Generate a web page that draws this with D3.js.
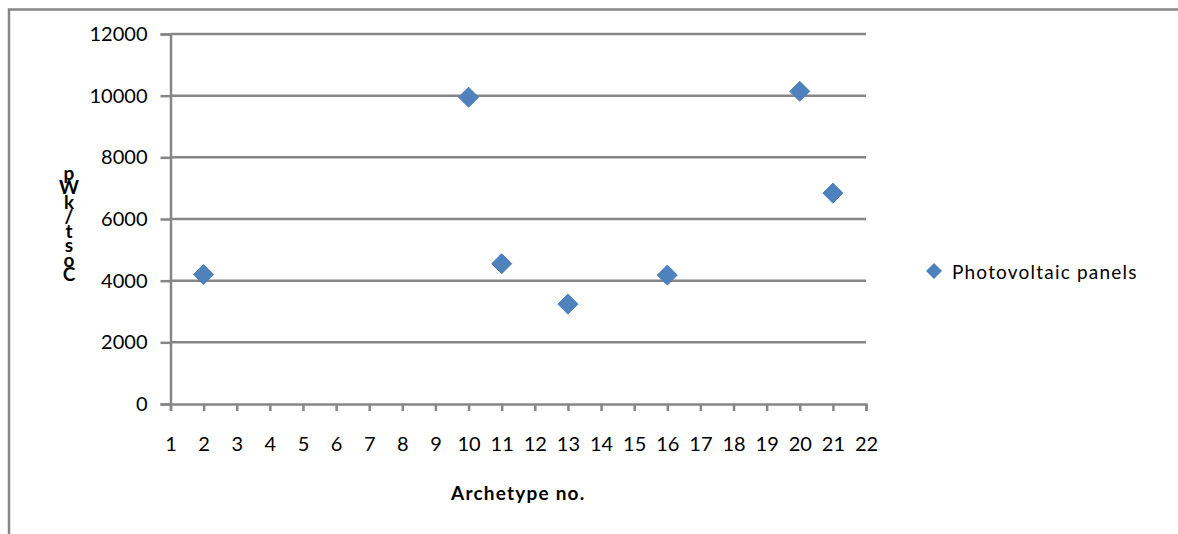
<!DOCTYPE html>
<html><head><meta charset="utf-8">
<script src="https://cdn.jsdelivr.net/npm/d3@7"></script>
<style>body{margin:0;background:#fff}svg{display:block}</style>
</head><body>
<svg id="c" width="1178" height="534"></svg>
<script>
const archetypes = [2, 10, 11, 13, 16, 20, 21];
const costs = [4200, 9950, 4550, 3240, 4180, 10140, 6840];
const seriesName = "Photovoltaic panels";
const xTicks = d3.range(1, 23);
const yTicks = [0, 2000, 4000, 6000, 8000, 10000, 12000];
const xTitle = "Archetype no.";
const yTitle = "Cost/kWp";

const svg = d3.select("#c");
const font = "Lato, 'Open Sans', sans-serif";
const grey = "#868686";
const blue = "#4F81BD";

// outer frame (clipped)
svg.append("path").attr("d", "M9,540 V9.5 H1190").attr("fill","none").attr("stroke", grey).attr("stroke-width", 2.5);

const x = d3.scaleLinear().domain([1, 22]).range([170.5, 866]);
const y = d3.scaleLinear().domain([0, 12000]).range([404, 34]);

// gridlines
svg.append("g").selectAll("line").data(yTicks.filter(d => d > 0)).join("line")
  .attr("x1", x(1)).attr("x2", x(22)).attr("y1", d => y(d)).attr("y2", d => y(d))
  .attr("stroke", grey).attr("stroke-width", 2.5);

// y axis
const ya = svg.append("g").attr("transform", `translate(${x(1)},0)`)
  .call(d3.axisLeft(y).tickValues(yTicks).tickSize(10).tickPadding(13).tickFormat(d3.format("d")));
ya.select(".domain").attr("stroke", grey).attr("stroke-width", 2.5);
ya.selectAll(".tick line").attr("stroke", grey).attr("stroke-width", 2.5);
ya.selectAll("text").attr("font-family", font).attr("font-size", 20).attr("fill", "#000");

// x axis
const xa = svg.append("g").attr("transform", `translate(0,${y(0)})`)
  .call(d3.axisBottom(x).tickValues(xTicks).tickSize(7).tickPadding(26).tickFormat(d3.format("d")));
xa.select(".domain").attr("stroke", grey).attr("stroke-width", 2.5);
xa.selectAll(".tick line").attr("stroke", grey).attr("stroke-width", 2.5);
xa.selectAll("text").attr("font-family", font).attr("font-size", 20).attr("fill", "#000");

// points
const diamond = s => `M0,${-s} L${s},0 L0,${s} L${-s},0 Z`;
svg.append("g").selectAll("path").data(archetypes.map((a, i) => [a, costs[i]])).join("path")
  .attr("transform", d => `translate(${x(d[0])},${y(d[1])})`)
  .attr("d", diamond(10))
  .attr("fill", blue).attr("stroke", "#4A7EBB").attr("stroke-width", 1).attr("stroke-linejoin", "round");

// x title
svg.append("text").attr("x", (x(1) + x(22)) / 2).attr("y", 500).attr("text-anchor", "middle")
  .attr("font-family", font).attr("font-weight", "bold").attr("font-size", 19)
  .attr("letter-spacing", 1.2).text(xTitle);

// y title: stacked characters, bottom to top
const chars = yTitle.split("");
svg.append("g").selectAll("text").data(chars).join("text")
  .attr("x", 69).attr("y", (d, i) => 281 - i * 14.5).attr("text-anchor", "middle")
  .attr("font-family", font).attr("font-weight", "bold").attr("font-size", 19).text(d => d);

// legend
svg.append("path").attr("transform", "translate(934,271)").attr("d", diamond(8)).attr("fill", blue);
svg.append("text").attr("x", 952).attr("y", 279).attr("font-family", font).attr("font-size", 19)
  .attr("letter-spacing", 1.2).text(seriesName);
</script>
</body></html>
